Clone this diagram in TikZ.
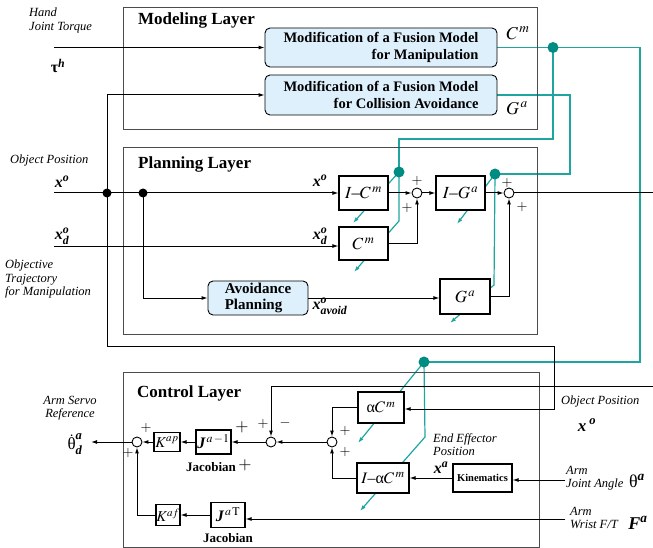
\documentclass[tikz,border=0pt]{standalone}
\usepackage{amsmath}
\usepackage{mathptmx}
\usepackage{fontspec}
\setmainfont{Liberation Serif}
\usetikzlibrary{arrows.meta,backgrounds}
\definecolor{tealL}{RGB}{30,165,160}
\definecolor{tealD}{RGB}{0,140,130}
\definecolor{boxblue}{RGB}{222,240,252}
\newcommand{\bi}[1]{\text{\bfseries\itshape #1}}
\newcommand{\bt}[1]{\text{\bfseries #1}}
\newcommand{\ds}{\text{–}}
\newcommand{\alp}{\text{α}}
\begin{document}
\begin{tikzpicture}[x=1pt,y=-1pt,
 layer/.style={draw=black!70,line width=1.4pt,inner sep=0pt,anchor=north west},
 blk/.style={draw,line width=1.1pt,fill=white,inner sep=0pt,font=\fontsize{17}{17}\selectfont},
 rbox/.style={draw,line width=0.9pt,fill=boxblue,rounded corners=5pt,inner sep=0pt},
 sumc/.style={circle,draw,line width=0.9pt,fill=white,minimum size=10pt,inner sep=0pt},
 sig/.style={line width=1pt,-{Latex[length=6pt,width=4pt]}},
 wire/.style={line width=1pt},
 tl/.style={tealL,line width=1.2pt},
 tla/.style={tealL,line width=1.2pt,-{Latex[length=6pt,width=4pt]}},
 tdot/.style={circle,fill=tealD,minimum size=11pt,inner sep=0pt},
 bdot/.style={circle,fill=black,minimum size=9pt,inner sep=0pt},
 ttl/.style={font=\fontsize{17}{19}\selectfont\bfseries,anchor=west,inner sep=0pt},
 lbl/.style={font=\fontsize{12.5}{13.5}\selectfont\itshape,align=left,inner sep=0pt},
 pm/.style={font=\fontsize{14}{14}\selectfont,inner sep=0pt},
 mth/.style={font=\fontsize{16}{16}\selectfont,inner sep=0pt},
]
\useasboundingbox (0,0) rectangle (653,548);

% layers
\node[layer,minimum width=414pt,minimum height=122pt] (ML) at (123,7) {};
\node[layer,minimum width=414pt,minimum height=187pt] (PL) at (123,147) {};
\node[layer,minimum width=416pt,minimum height=175pt] (CL) at (123,372) {};
\node[ttl] (tML) at (138,20) {Modeling Layer};
\node[ttl] (tPL) at (138,164) {Planning Layer};
\node[ttl] (tCL) at (137,393) {Control Layer};

% modeling boxes
\node[rbox,minimum width=232pt,minimum height=39pt,font=\fontsize{14.5}{17}\selectfont\bfseries,align=right] (fm) at (381,47.5) {Modification of a Fusion Model\\for Manipulation};
\node[rbox,minimum width=232pt,minimum height=40pt,font=\fontsize{14.5}{17}\selectfont\bfseries,align=right] (fc) at (381,95) {Modification of a Fusion Model\\for Collision Avoidance};
\node[font=\fontsize{18}{18}\selectfont] (lC) at (518,33) {$C^{\,m}$};
\node[font=\fontsize{18}{18}\selectfont] (lG) at (517,108) {$G^{\,a}$};

% planning blocks
\node[blk,minimum width=49pt,minimum height=34pt] (ic) at (363.5,193) {$I\ds C^{\,m}$};
\node[blk,minimum width=49pt,minimum height=33pt] (cm) at (363.5,243.5) {$C^{\,m}$};
\node[blk,minimum width=49pt,minimum height=34pt] (ig) at (460.5,193) {$I\ds G^{\,a}$};
\node[blk,minimum width=50pt,minimum height=35pt] (ga) at (465,296.5) {$G^{\,a}$};
\node[sumc] (s1) at (417,193) {};
\node[sumc] (s2) at (509,193) {};
\node[rbox,minimum width=100pt,minimum height=34pt,font=\fontsize{15}{15.5}\selectfont\bfseries,align=left] (ap) at (258,298) {Avoidance\\Planning};
\node[bdot] (j1) at (107,193) {};
\node[bdot] (j2) at (143,193) {};

\coordinate (tauin) at (54,47.5);
\coordinate (xoin) at (54,193);
\coordinate (xdin) at (54,246);
\coordinate (pout) at (653,193);

\draw[sig] (tauin) -- (fm.west);
\draw[sig] (j1.center) |- (fc.west);
\draw[sig] (xoin) -- (ic.west);
\draw[sig] (j2.center) |- (ap.west);
\draw[sig] (xdin) -- (xdin -| cm.west);
\draw[sig] (ap.east) -- (ap.east -| ga.west);
\draw[sig] (ic.east) -- (s1.west);
\draw[sig] (cm.east) -| (s1.south);
\draw[sig] (s1.east) -- (ig.west);
\draw[sig] (ig.east) -- (s2.west);
\draw[sig] (ga.east) -| (s2.south);
\draw[wire] (s2.east) -- (pout);

% control blocks
\node[blk,minimum width=46pt,minimum height=31pt,font=\fontsize{16}{16}\selectfont] (acm) at (381,407.5) {$\alp C^{\,m}$};
\node[blk,minimum width=52pt,minimum height=30pt,font=\fontsize{16}{16}\selectfont] (iacm) at (383,478) {$I\ds\alp C^{\,m}$};
\node[blk,minimum width=59pt,minimum height=28pt,font=\fontsize{10.5}{11}\selectfont\bfseries] (kin) at (482.5,478) {Kinematics};
\node[sumc] (s3) at (332,442) {};
\node[sumc] (s4) at (271,442) {};
\node[blk,minimum width=35pt,minimum height=24pt,font=\fontsize{16}{16}\selectfont] (jinv) at (213.5,442) {$\bi{J}^{\,a\,-1}$};
\node[blk,minimum width=26pt,minimum height=19pt,font=\fontsize{15}{15}\selectfont] (kap) at (167,442) {$K^{ap}$};
\node[sumc] (s5) at (137,442) {};
\node[blk,minimum width=24pt,minimum height=21pt,font=\fontsize{15}{15}\selectfont] (kaf) at (168,515) {$K^{af}$};
\node[blk,minimum width=34pt,minimum height=25pt,font=\fontsize{16}{16}\selectfont] (jt) at (228,515) {$\bi{J}^{\,a\,\mathrm{T}}$};

\coordinate (c1) at (107,346);
\coordinate (c2) at (554,346);
\coordinate (c3) at (554,409);
\draw[sig] (j1.center) -- (c1) -- (c2) -- (c3) -- (c3 -| acm.east);
\coordinate (cin) at (653,386);
\coordinate (cb) at (271,386);
\draw[sig] (cin) -- (cb) -- (s4.north);
\draw[sig] (acm.west) -| (s3.north);
\draw[sig] (iacm.west) -| (s3.south);
\draw[sig] (s3.west) -- (s4.east);
\draw[sig] (s4.west) -- (jinv.east);
\draw[sig] (jinv.west) -- (kap.east);
\draw[sig] (kap.west) -- (s5.east);
\coordinate (thout) at (91,442);
\draw[sig] (s5.west) -- (thout);
\draw[sig] (kaf.west) -| (s5.south);
\draw[sig] (jt.west) -- (kaf.east);
\coordinate (ftin) at (565,519);
\draw[sig] (ftin) -- (ftin -| jt.east);
\coordinate (thin) at (565,480);
\draw[sig] (thin) -- (thin -| kin.east);
\draw[sig] (kin.west) -- (kin.west -| iacm.east);

% teal
\node[tdot] (d1) at (553,47.5) {};
\node[tdot] (d2) at (399,172) {};
\node[tdot] (d3) at (424,362) {};
\node[tdot] (d4) at (495,174) {};
\begin{pgfonlayer}{background}
\draw[tl] (fm.east) -- (640,47.5) -- (640,362) -- (d3.center);
\draw[tl] (d1.center) -- (553,139) -- (399,139) -- (d2.center);
\draw[tl] (fc.east) -- (570,95) -- (570,174) -- (d4.center);
\draw[tla] (d2.center) -- (353,223);
\draw[tla] (d2.center) -- (399,221) -- (354,272);
\draw[tla] (d4.center) -- (457,224);
\draw[tla] (d4.center) -- (494,285) -- (450,323);
\draw[tla] (d3.center) -- (358,443);
\draw[tla] (d3.center) -- (425,437) -- (360,511);
\end{pgfonlayer}

% labels left
\node[lbl,anchor=north west] (lhand) at (29,8) {Hand\\Joint Torque};
\node[mth] (ltau) at (58,66) {$\bt{τ}^{\bi{h}}$};
\node[lbl,anchor=west] (lobj) at (10,160) {Object Position};
\node[mth] (lxo) at (62,182) {$\bi{x}^{\bi{o}}$};
\node[mth] (lxd) at (62,236) {$\bi{x}^{\bi{o}}_{\bi{d}}$};
\node[lbl,anchor=north west] (lobjt) at (5,260) {Objective\\Trajectory\\for Manipulation};
\node[mth] (ixo) at (320,181) {$\bi{x}^{\bi{o}}$};
\node[mth] (ixd) at (320,236) {$\bi{x}^{\bi{o}}_{\bi{d}}$};
\node[mth] (ixa) at (330,306) {$\bi{x}^{\bi{o}}_{\bi{avoid}}$};

% plus signs
\node[pm] (p1) at (417,181) {$+$};
\node[pm] (p2) at (407,208) {$+$};
\node[pm] (p3) at (507,183) {$+$};
\node[pm] (p4) at (522,207) {$+$};
\node[pm] (p5) at (146,428) {$+$};
\node[pm] (p6) at (128,453) {$+$};
\node[pm,font=\fontsize{17}{17}\selectfont] (p7) at (242,427) {$+$};
\node[pm,font=\fontsize{17}{17}\selectfont] (p8) at (245,465) {$+$};
\node[pm] (p9) at (263,424) {$+$};
\node[pm] (m1) at (285,423) {$-$};
\node[pm] (p10) at (345,431) {$+$};
\node[pm] (p11) at (345,452) {$+$};

\node[font=\fontsize{13}{13}\selectfont\bfseries,inner sep=0pt] (jac1) at (211,467) {Jacobian};
\node[font=\fontsize{13}{13}\selectfont\bfseries,inner sep=0pt] (jac2) at (228,538) {Jacobian};

% labels right
\node[lbl,anchor=west] (robj) at (561,401) {Object Position};
\node[font=\fontsize{17}{17}\selectfont] (rxo) at (587,425) {$\bi{x}^{\;\bi{o}}$};
\node[lbl,anchor=north west] (lee) at (433,433) {End Effector\\Position};
\node[mth] (lxa) at (441,468) {$\bi{x}^{\bi{a}}$};
\node[lbl,anchor=north west] (ljoint) at (566,466) {Arm\\Joint Angle};
\node[font=\fontsize{18}{18}\selectfont] (lth) at (637,481) {$\text{θ}^{\bi{a}}$};
\node[lbl,anchor=north west] (lwrist) at (570,507) {Arm\\Wrist F/T};
\node[font=\fontsize{18}{18}\selectfont] (lF) at (638,523) {$\bi{F}^{\bi{a}}$};
\node[lbl,align=center] (lservo) at (70,408) {Arm Servo\\Reference};
\node[font=\fontsize{17}{17}\selectfont,inner sep=0pt] (lthd) at (75,444) {$\dot{\text{θ}}^{\bi{a}}_{\bi{d}}$};
\end{tikzpicture}
\end{document}
